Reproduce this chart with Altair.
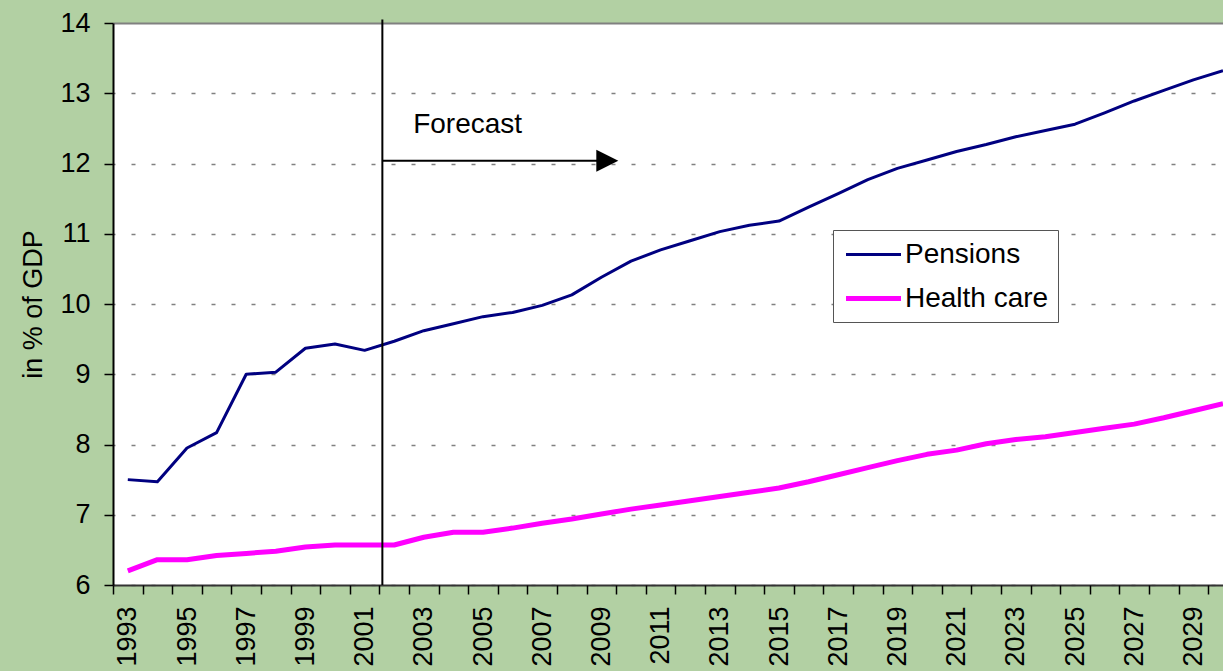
import altair as alt
import pandas as pd

# ---- data -------------------------------------------------------------
years = list(range(1993, 2031))
pensions = [7.50, 7.47, 7.95, 8.17, 9.00, 9.03, 9.37, 9.43, 9.34, 9.47,
            9.62, 9.72, 9.82, 9.88, 9.98, 10.13, 10.38, 10.61, 10.77, 10.90,
            11.03, 11.12, 11.18, 11.38, 11.57, 11.77, 11.93, 12.05, 12.17, 12.27,
            12.38, 12.47, 12.56, 12.72, 12.89, 13.04, 13.19, 13.32]
health_care = [6.20, 6.36, 6.36, 6.42, 6.45, 6.48, 6.54, 6.57, 6.57, 6.57,
               6.68, 6.75, 6.75, 6.81, 6.88, 6.94, 7.01, 7.08, 7.14, 7.20,
               7.26, 7.32, 7.38, 7.47, 7.57, 7.67, 7.77, 7.86, 7.92, 8.01,
               8.07, 8.11, 8.17, 8.23, 8.29, 8.38, 8.48, 8.58]
series_names = ["Pensions", "Health care"]
series_colors = ["#000080", "#FF00FF"]
series_widths = [3, 5]
y_ticks = list(range(6, 15))

# forecast marker: start of projections and the arrow pointing right
forecast_start = 2001.6
arrow_level = 12.04
arrow_shaft_end = 2008.9
arrow_head_center = 2009.2
forecast_label = "Forecast"
forecast_label_year = 2002.64
forecast_label_value = 12.44

FONT = "Liberation Sans"

rows = []
for name, vals in zip(series_names, [pensions, health_care]):
    for yr, v in zip(years, vals):
        rows.append({"year": yr, "value": v, "series": name})
df = pd.DataFrame(rows)

# odd years carry the labels, category boundaries carry the ticks
label_years = [yr for yr in years if yr % 2 == 1]
boundaries = [yr - 0.5 for yr in years]

x_scale = alt.Scale(domain=[years[0] - 0.5, years[-1]], nice=False, zero=False)
y_scale = alt.Scale(domain=[y_ticks[0], y_ticks[-1]], nice=False, zero=False)

x_label_axis = alt.Axis(
    orient="bottom",
    values=label_years,
    format="d",
    labelAngle=-90,
    labelFontSize=27,
    labelFont=FONT,
    labelColor="black",
    labelPadding=12,
    labelOverlap=False,
    tickSize=9,
    tickOpacity=0,
    domainColor="#333333",
    domainWidth=2,
    grid=False,
    title=None,
)

x_tick_axis = alt.Axis(
    orient="bottom",
    values=boundaries,
    labels=False,
    tickSize=9,
    tickWidth=1.5,
    tickColor="black",
    domain=False,
    grid=False,
    title=None,
)

y_axis = alt.Axis(
    values=y_ticks,
    labelFontSize=27,
    labelFont=FONT,
    labelColor="black",
    labelPadding=14,
    tickSize=9,
    tickWidth=1.5,
    tickColor="black",
    domainColor="black",
    domainWidth=2,
    grid=True,
    gridColor="#808080",
    gridDash={"condition": {"test": "datum.value === 14", "value": []}, "value": [4, 16]},
    gridWidth={"condition": {"test": "datum.value === 14", "value": 2}, "value": 1.5},
    gridDashOffset=2,
    title="in % of GDP",
    titleFont=FONT,
    titleFontSize=27,
    titleFontWeight="normal",
    titleColor="black",
    titlePadding=12,
)

legend = alt.Legend(
    title=None,
    orient="none",
    legendX=720,
    legendY=207,
    padding=9,
    rowPadding=13,
    fillColor="white",
    strokeColor="#555555",
    labelFont=FONT,
    labelFontSize=28,
    labelColor="black",
    labelOffset=15,
    symbolType="M-2,0L2,0",
    symbolSize=756,
    symbolOffset=15,
)


def yenc(field):
    return alt.Y(field, scale=y_scale, axis=y_axis)


lines = alt.Chart(df).mark_line(strokeJoin="round").encode(
    x=alt.X("year:Q", scale=x_scale, axis=x_label_axis),
    y=yenc("value:Q"),
    color=alt.Color("series:N", scale=alt.Scale(domain=series_names, range=series_colors),
                    legend=legend),
    strokeWidth=alt.StrokeWidth("series:N", scale=alt.Scale(domain=series_names, range=series_widths),
                                legend=legend),
    order=alt.Order("year:Q"),
)

# vertical divider between history and forecast (also carries the boundary ticks)
divider = alt.Chart(pd.DataFrame({"year": [forecast_start], "lo": [y_ticks[0]], "hi": [y_ticks[-1] + 0.05]})).mark_rule(
    color="black", strokeWidth=2
).encode(
    x=alt.X("year:Q", scale=x_scale, axis=x_tick_axis),
    y=yenc("lo:Q"),
    y2="hi:Q",
)

shaft = alt.Chart(pd.DataFrame({"x0": [forecast_start], "x1": [arrow_shaft_end], "v": [arrow_level]})).mark_rule(
    color="black", strokeWidth=2
).encode(
    x=alt.X("x0:Q", scale=x_scale, axis=None),
    x2="x1:Q",
    y=yenc("v:Q"),
)

head = alt.Chart(pd.DataFrame({"x": [arrow_head_center], "v": [arrow_level]})).mark_point(
    shape="M-1,-1L1,0L-1,1Z", filled=True, size=484, color="black", opacity=1
).encode(
    x=alt.X("x:Q", scale=x_scale, axis=None),
    y=yenc("v:Q"),
)

label = alt.Chart(pd.DataFrame({"x": [forecast_label_year], "v": [forecast_label_value], "t": [forecast_label]})).mark_text(
    align="left", baseline="alphabetic", font=FONT, fontSize=28, color="black"
).encode(
    x=alt.X("x:Q", scale=x_scale, axis=None),
    y=yenc("v:Q"),
    text="t:N",
)

chart = alt.layer(lines, divider, shaft, head, label).resolve_axis(x="independent").properties(
    width=1110,
    height=562,
    autosize=alt.AutoSizeParams(type="none"),
    padding={"left": 113, "top": 23, "right": 0, "bottom": 86},
    background="#b2d0a3",
).configure(font=FONT).configure_view(stroke=None, fill="white")

chart.save("out.html", embed_options={"renderer": "svg", "actions": False})
